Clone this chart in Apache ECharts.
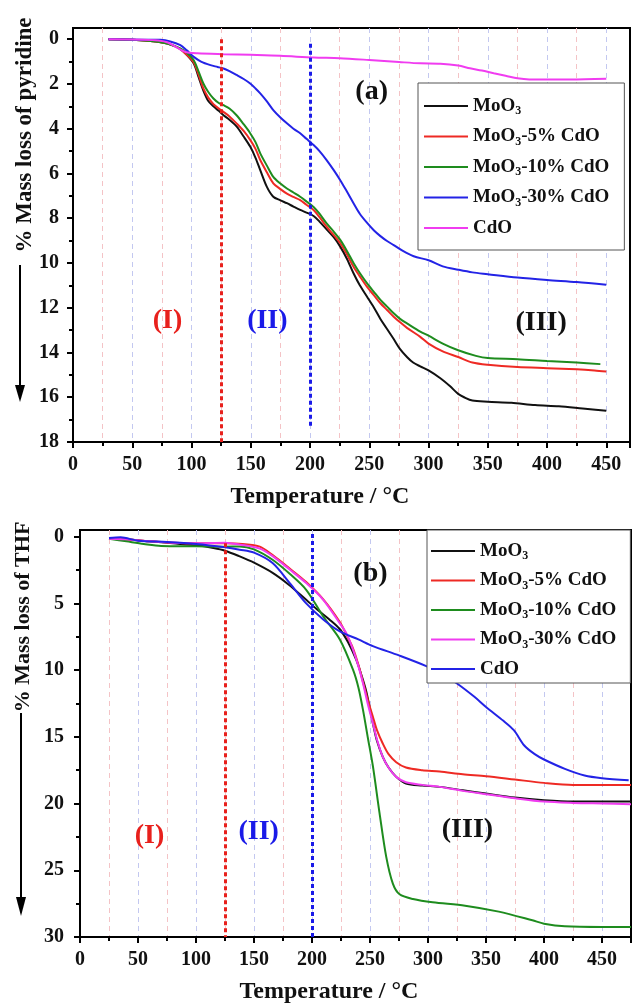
<!DOCTYPE html>
<html>
<head>
<meta charset="utf-8">
<script src="https://cdn.jsdelivr.net/npm/echarts@6.0.0/dist/echarts.min.js"></script>
<style>
html,body{margin:0;padding:0;background:#fff;}
#c{width:633px;height:1005px;}
</style>
</head>
<body>
<div id="c"></div>
<script>
// ---------- Data: panel (a) pyridine ----------
const namesA = ['MoO3', 'MoO3-5% CdO', 'MoO3-10% CdO', 'MoO3-30% CdO', 'CdO'];
const pyrMoO3 = [[30,0],[50,0.02],[70,0.1],[80,0.2],[90,0.42],[96,0.7],[102,1.1],[106,1.7],[110,2.3],[114,2.75],[118.5,3.0],[123,3.2],[127,3.4],[132,3.6],[138,3.9],[144,4.35],[149.5,4.8],[154,5.3],[158,5.85],[163.6,6.6],[169,7.04],[175,7.2],[180.5,7.33],[186,7.48],[191.7,7.63],[197,7.75],[203,7.9],[208,8.15],[214,8.5],[220,8.85],[225.5,9.27],[231,9.8],[236.7,10.46],[242,11.0],[248,11.5],[254,12.0],[259.4,12.5],[265,12.95],[270.6,13.4],[276,13.85],[281.8,14.2],[287,14.45],[293,14.62],[300,14.8],[310,15.15],[318,15.5],[325,15.85],[330,16.0],[337,16.15],[350,16.2],[370,16.25],[390,16.35],[410,16.4],[430,16.5],[450,16.6]];
const pyr5 = [[30,0],[50,0.02],[70,0.1],[80,0.2],[90,0.42],[96,0.7],[102,1.05],[106,1.6],[110,2.2],[114,2.6],[118.5,2.9],[123,3.1],[127,3.25],[132,3.45],[138,3.76],[144,4.1],[149.5,4.5],[154,4.9],[158,5.4],[163.6,5.95],[169,6.44],[175,6.7],[180.5,6.9],[186,7.05],[191.7,7.19],[197,7.4],[203,7.63],[208,7.95],[214,8.38],[220,8.75],[225.5,9.12],[231,9.6],[236.7,10.17],[242,10.6],[248,11.06],[254,11.45],[259.4,11.8],[265,12.1],[270.6,12.4],[276,12.65],[281.8,12.9],[293,13.3],[300,13.6],[312,13.95],[325,14.2],[337,14.45],[350,14.55],[375,14.65],[400,14.7],[425,14.75],[440,14.8],[450,14.85]];
const pyr10 = [[30,0],[50,0.02],[70,0.1],[80,0.2],[90,0.4],[96,0.6],[101.9,0.94],[106,1.45],[110,1.98],[114,2.35],[118.5,2.65],[123,2.85],[127,2.95],[132,3.1],[138,3.4],[144,3.8],[149.5,4.2],[154,4.6],[158,5.1],[163.6,5.65],[169,6.15],[175,6.45],[180.5,6.67],[186,6.85],[191.7,7.04],[197,7.25],[203,7.5],[208,7.8],[214,8.23],[220,8.6],[225.5,8.97],[231,9.45],[236.7,10.0],[242,10.45],[248,10.9],[254,11.3],[259.4,11.65],[265,11.95],[270.6,12.25],[276,12.5],[281.8,12.7],[293,13.07],[300,13.25],[312,13.6],[325,13.9],[340,14.15],[350,14.25],[375,14.3],[400,14.38],[425,14.45],[445,14.52]];
const pyr30 = [[30,0],[60,0.02],[73.7,0.03],[82,0.1],[90.6,0.27],[96,0.5],[101.9,0.79],[108,1.0],[116,1.16],[122,1.24],[127,1.31],[132,1.43],[138,1.6],[144,1.78],[149.5,1.98],[154,2.2],[158,2.42],[163.6,2.78],[169,3.17],[175,3.5],[180.5,3.76],[186,4.0],[191.7,4.2],[197,4.45],[203,4.73],[208,5.0],[214,5.4],[220,5.85],[225.5,6.3],[231,6.8],[236.7,7.33],[242,7.8],[248,8.2],[254,8.55],[259.4,8.8],[265,9.02],[270.6,9.2],[278,9.45],[287.5,9.7],[300,9.88],[312,10.15],[325,10.3],[337,10.42],[350,10.5],[375,10.65],[400,10.76],[425,10.85],[450,10.97]];
const pyrCdO = [[30,0],[60,0.02],[72,0.06],[80,0.15],[88,0.38],[95,0.57],[105,0.63],[127,0.67],[150,0.7],[175,0.74],[203,0.82],[225,0.85],[250,0.93],[275,1.02],[293,1.08],[310,1.1],[325,1.18],[335,1.3],[345,1.4],[355,1.52],[365,1.63],[375,1.75],[385,1.8],[420,1.8],[450,1.77]];

// ---------- Data: panel (b) THF ----------
const namesB = ['MoO3', 'MoO3-5% CdO', 'MoO3-10% CdO', 'MoO3-30% CdO', 'CdO'];
const thfMoO3 = [[25,0.15],[40,0.2],[60,0.35],[80,0.5],[100,0.65],[115,0.85],[125,1.05],[137.7,1.48],[150,1.95],[166.4,2.73],[180,3.6],[195,4.73],[205,5.5],[215,6.2],[223.7,6.9],[231,7.9],[238,9.2],[242,10.2],[246.8,11.6],[252.5,14.0],[256,15.3],[261,16.5],[266,17.3],[272.6,18.0],[281,18.5],[295,18.65],[310,18.75],[330,19.0],[350,19.25],[375,19.55],[400,19.75],[425,19.85],[450,19.85],[475,19.85]];
const thf5 = [[25,0.15],[40,0.2],[60,0.35],[80,0.45],[100,0.5],[125,0.5],[140,0.55],[155,0.75],[166.4,1.4],[181,2.4],[195,3.4],[209.7,4.7],[224,6.4],[230,7.4],[235.5,8.4],[240,9.6],[244,10.9],[248,12.2],[252.5,13.5],[256,14.5],[261,15.5],[266,16.3],[272.6,16.9],[281,17.3],[295,17.5],[310,17.6],[330,17.8],[350,17.95],[375,18.2],[400,18.45],[425,18.6],[450,18.6],[475,18.6]];
const thf10 = [[25,0.15],[40,0.35],[55,0.55],[70,0.7],[100,0.72],[125,0.75],[137.7,0.73],[150,0.95],[166,1.73],[181,2.8],[195,3.98],[209.7,5.98],[224,7.7],[235.5,10.0],[240,11.3],[244,13.0],[248,15.0],[252.5,17.2],[258.2,20.7],[264,24.0],[269.7,26.0],[275.5,26.8],[287,27.15],[304,27.4],[332,27.65],[361,28.1],[390,28.75],[400,29.0],[418,29.2],[450,29.25],[475,29.25]];
const thf30 = [[25,0.15],[40,0.2],[60,0.35],[80,0.45],[100,0.5],[125,0.45],[138,0.6],[155,0.9],[166.4,1.48],[181,2.48],[195,3.48],[209.7,4.73],[224,6.5],[230,7.3],[235.5,8.5],[240,9.7],[244,11.0],[248,12.5],[252.5,14.0],[256,15.2],[261,16.5],[266,17.3],[272.6,18.0],[281,18.4],[295,18.6],[310,18.75],[330,19.05],[350,19.3],[375,19.6],[400,19.85],[425,19.95],[450,20.0],[475,20.05]];
const thfCdO = [[25,0.1],[35,0.05],[50,0.3],[75,0.4],[100,0.55],[125,0.8],[137.7,0.98],[150,1.2],[166,1.98],[181,3.5],[195,5.0],[209.7,6.2],[224,7.1],[240,7.7],[252.5,8.2],[275,8.9],[298.5,9.7],[312,10.3],[325,11.0],[340,12.0],[350,12.76],[365,13.8],[374,14.5],[383,15.65],[392,16.3],[400,16.7],[418,17.4],[435,17.9],[450,18.1],[473,18.25]];

// ---------- Ticks / labels ----------
const yTicksA = [0,2,4,6,8,10,12,14,16,18];
const yMinorA = [1,3,5,7,9,11,13,15,17];
const yTicksB = [0,5,10,15,20,25,30];
const yMinorB = [2.5,7.5,12.5,17.5,22.5,27.5];
const xTitle = 'Temperature / °C';
const yTitleA = '% Mass loss of pyridine';
const yTitleB = '% Mass loss of THF';
const regionTextA = ['(I)','(II)','(III)','(a)'];
const regionPosA = [[79.8,12.58],[164,12.6],[395,12.66],[252,2.35]];
const regionTextB = ['(I)','(II)','(III)','(b)'];
const regionPosB = [[59.9,22.45],[154,22.1],[334,21.95],[250.4,2.78]];
const dividerTemps = [125, 200];

// ---------- Styles ----------
const FONT = 'Liberation Serif';
const colA = ['#111111','#ee2a24','#1e8c1e','#2323e6','#f03cf0'];
const colB = ['#111111','#ee2a24','#1e8c1e','#f03cf0','#2323e6'];
const regionCol = ['#e8201c','#1a1ae8','#111111','#111111'];

const seriesA = [pyrMoO3, pyr5, pyr10, pyr30, pyrCdO];
const seriesB = [thfMoO3, thf5, thf10, thf30, thfCdO];

function richName(n) {
  const base = n.split(':')[1];
  if (base.indexOf('MoO3') === 0) {
    const rest = base.slice(4);
    return '{t|MoO}{s|3}' + (rest ? '{t|' + rest + '}' : '');
  }
  return '{t|' + base + '}';
}

const tickFont = {fontFamily: FONT, fontWeight: 'bold', fontSize: 20, color: '#111'};

function xAxisCfg(grid, max) {
  return {
    gridIndex: grid, type: 'value', min: 0, max: max, interval: 50,
    axisLine: {onZero: false, lineStyle: {color: '#000', width: 2}},
    axisTick: {length: 6, lineStyle: {color: '#000', width: 2}},
    minorTick: {show: true, splitNumber: 2, length: 4, lineStyle: {color: '#000', width: 2}},
    axisLabel: Object.assign({margin: 13, showMaxLabel: false}, tickFont),
    splitLine: {show: true, showMaxLine: false, lineStyle: {color: '#c3c8f0', type: [5, 4], width: 1}},
    minorSplitLine: {show: true, lineStyle: {color: '#f4c3c6', type: [5, 4], width: 1}}
  };
}
function yAxisMain(grid, max, ticks, margin) {
  return {
    gridIndex: grid, type: 'value', inverse: true, min: -0.5, max: max, position: 'left',
    axisLine: {show: true, onZero: false, lineStyle: {color: '#000', width: 2}},
    axisTick: {show: true, customValues: ticks, length: 6, lineStyle: {color: '#000', width: 2}},
    axisLabel: Object.assign({customValues: ticks, margin: margin}, tickFont),
    splitLine: {show: false}
  };
}
function yAxisMinor(grid, max, ticks) {
  return {
    gridIndex: grid, type: 'value', inverse: true, min: -0.5, max: max, position: 'left',
    axisLine: {show: false, onZero: false},
    axisTick: {show: true, customValues: ticks, length: 4, lineStyle: {color: '#000', width: 2}},
    axisLabel: {show: false},
    splitLine: {show: false}
  };
}

const series = [];
function addPanel(prefix, names, data, cols, xi, yi, redSpan, blueSpan, regText, regPos) {
  data.forEach((d, i) => {
    const s = {
      name: prefix + ':' + names[i], type: 'line', xAxisIndex: xi, yAxisIndex: yi,
      data: d, showSymbol: false, symbol: 'none', smooth: 0.3,
      lineStyle: {color: cols[i], width: 2}, itemStyle: {color: cols[i]}, silent: true, z: 3
    };
    if (i === 0) {
      s.markLine = {
        silent: true, symbol: ['none', 'none'], label: {show: false}, animation: false,
        data: [
          [{coord: [dividerTemps[0], redSpan[0]], lineStyle: {color: '#e8201c', width: 3, type: [4, 3]}},
           {coord: [dividerTemps[0], redSpan[1]]}],
          [{coord: [dividerTemps[1], blueSpan[0]], lineStyle: {color: '#1a1ae8', width: 3, type: [4, 3]}},
           {coord: [dividerTemps[1], blueSpan[1]]}]
        ]
      };
    }
    series.push(s);
  });
  series.push({
    name: prefix + ':regions', type: 'scatter', xAxisIndex: xi, yAxisIndex: yi,
    symbolSize: 1, itemStyle: {color: 'rgba(0,0,0,0)', opacity: 1}, silent: true, z: 5,
    label: {show: true, position: 'inside', opacity: 1, textBorderWidth: 0,
            fontFamily: FONT, fontWeight: 'bold', fontSize: 28},
    data: regText.map((t, i) => ({value: regPos[i], label: {formatter: t, color: regionCol[i], opacity: 1}}))
  });
}
addPanel('a', namesA, seriesA, colA, 0, 0, [0, 18], [0.2, 17.4], regionTextA, regionPosA);
addPanel('b', namesB, seriesB, colB, 1, 2, [0.5, 30], [-0.2, 30], regionTextB, regionPosB);

const legendText = {
  fontFamily: FONT, fontWeight: 'bold', fontSize: 19, lineHeight: 22, color: '#111',
  rich: {
    t: {fontFamily: FONT, fontWeight: 'bold', fontSize: 19, lineHeight: 22, color: '#111'},
    s: {fontFamily: FONT, fontWeight: 'bold', fontSize: 12, lineHeight: 12, verticalAlign: 'bottom', color: '#111'}
  }
};

const option = {
  animation: false,
  backgroundColor: '#fff',
  grid: [
    {left: 73, top: 28, width: 557, height: 414, show: true, borderColor: '#000', borderWidth: 2, backgroundColor: 'transparent'},
    {left: 80, top: 530, width: 551, height: 407, show: true, borderColor: '#000', borderWidth: 2, backgroundColor: 'transparent'}
  ],
  xAxis: [xAxisCfg(0, 470), xAxisCfg(1, 475)],
  yAxis: [
    yAxisMain(0, 18, yTicksA, 14), yAxisMinor(0, 18, yMinorA),
    yAxisMain(1, 30, yTicksB, 16), yAxisMinor(1, 30, yMinorB)
  ],
  legend: [
    {data: namesA.map(n => 'a:' + n), orient: 'vertical', left: 418, top: 83, padding: [12, 15, 11, 6],
     itemGap: 8.5, itemWidth: 44, itemHeight: 2, icon: 'rect', selectedMode: false,
     borderColor: '#555', borderWidth: 1, backgroundColor: '#fff', formatter: richName, textStyle: legendText},
    {data: namesB.map(n => 'b:' + n), orient: 'vertical', left: 427, top: 530, padding: [10, 14, 3, 4],
     itemGap: 7.5, itemWidth: 44, itemHeight: 2, icon: 'rect', selectedMode: false,
     borderColor: '#555', borderWidth: 1, backgroundColor: '#fff', formatter: richName, textStyle: legendText}
  ],
  graphic: [
    {type: 'text', x: 25, y: 135, rotation: Math.PI / 2,
     style: {text: yTitleA, font: 'bold 23px "Liberation Serif"', fill: '#111', align: 'center', verticalAlign: 'middle'}},
    {type: 'line', shape: {x1: 20, y1: 265, x2: 20, y2: 390}, style: {stroke: '#000', lineWidth: 2}},
    {type: 'polygon', shape: {points: [[15, 385], [25, 385], [20, 402]]}, style: {fill: '#000'}},
    {type: 'text', x: 320, y: 497,
     style: {text: xTitle, font: 'bold 24px "Liberation Serif"', fill: '#111', align: 'center', verticalAlign: 'middle'}},
    {type: 'text', x: 23, y: 617, rotation: Math.PI / 2,
     style: {text: yTitleB, font: 'bold 22px "Liberation Serif"', fill: '#111', align: 'center', verticalAlign: 'middle'}},
    {type: 'line', shape: {x1: 21, y1: 713, x2: 21, y2: 902}, style: {stroke: '#000', lineWidth: 2}},
    {type: 'polygon', shape: {points: [[16, 897], [26, 897], [21, 916]]}, style: {fill: '#000'}},
    {type: 'text', x: 329, y: 992,
     style: {text: xTitle, font: 'bold 24px "Liberation Serif"', fill: '#111', align: 'center', verticalAlign: 'middle'}}
  ],
  series: series
};

const chart = echarts.init(document.getElementById('c'), null, {renderer: 'canvas'});
chart.setOption(option);
</script>
</body>
</html>
